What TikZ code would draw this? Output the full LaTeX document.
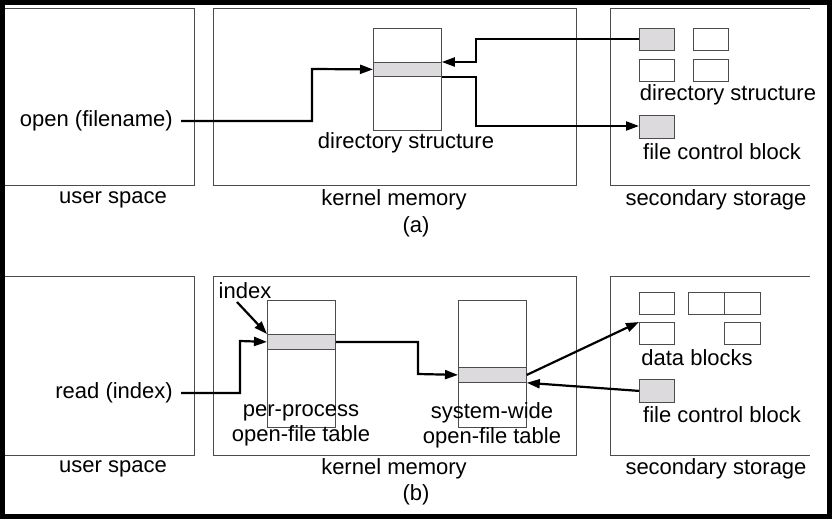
\documentclass[tikz,border=0pt]{standalone}
\usepackage{fontspec}
\setmainfont{Liberation Sans}
\usetikzlibrary{arrows.meta,positioning}
\definecolor{shade}{RGB}{221,218,221}
\begin{document}
\begin{tikzpicture}[x=1pt,y=-1pt,font=\fontsize{22}{25}\selectfont]
		\tikzstyle{region} = [draw=black!70, line width=0.8pt]
		\tikzstyle{table} = [draw=black!70, line width=0.8pt, fill=white]
		\tikzstyle{row} = [draw=black!70, line width=0.8pt, fill=shade]
		\tikzstyle{block} = [draw=black!70, line width=0.8pt, fill=white]
		\tikzstyle{txt} = [inner sep=0pt]
		\tikzstyle{arrow} = [line width=2.2pt, -{Triangle[length=13pt,width=9pt]}]
		\useasboundingbox (0,0) rectangle (832,519);
		\draw [line width=5pt] (2.5,2.5) rectangle (829.5,516.5);
		% (a)
		\draw [region] (5,8) -- (194,8) -- (194,185) -- (5,185);
		\draw [region] (213,8) rectangle (576,185);
		\draw [region] (810,8) -- (610,8) -- (610,185) -- (810,185);
		\node (tabA) [table, minimum width=68pt, minimum height=102pt, anchor=north west] at (373,28) {};
		\node (rowA) [row, minimum width=68pt, minimum height=14pt, anchor=north west] at (373,62) {};
		\node (dirA) [block, fill=shade, minimum width=35pt, minimum height=22pt, anchor=north west] at (639,28) {};
		\node (dirB) [block, minimum width=35pt, minimum height=22pt, anchor=north west] at (693,28) {};
		\node (dirC) [block, minimum width=35pt, minimum height=22pt, anchor=north west] at (639,59) {};
		\node (dirD) [block, minimum width=35pt, minimum height=22pt, anchor=north west] at (693,59) {};
		\node (fcbA) [block, fill=shade, minimum width=35pt, minimum height=23pt, anchor=north west] at (639,115) {};
		\node (open) [txt, anchor=east] at (173,121) {open (filename)};
		\node (dirAtxt) [txt] at (406,143) {directory structure};
		\node (dirtxt) [txt] at (728,95) {directory structure};
		\node (fcbAtxt) [txt] at (722,152) {file control block};
		\node [txt] at (113,200) {user space};
		\node [txt] at (394,200) {kernel memory};
		\node [txt] at (716,200) {secondary storage};
		\node [txt] at (416,227) {(a)};
		\draw [arrow] (open.east) ++(8,0) -| (312,69) -- (rowA.west);
		\draw [arrow] (dirA.west) -| (476,62) -- (rowA.north east);
		\draw [arrow] (rowA.south east) -| (476,126) -- (fcbA.west |- 0,126);
		% (b)
		\draw [region] (5,276) -- (194,276) -- (194,455) -- (5,455);
		\draw [region] (213,276) rectangle (576,455);
		\draw [region] (810,276) -- (610,276) -- (610,455) -- (810,455);
		\node (perTab) [table, minimum width=68pt, minimum height=127pt, anchor=north west] at (267,300) {};
		\node (perRow) [row, minimum width=68pt, minimum height=15pt, anchor=north west] at (267,334) {};
		\node (sysTab) [table, minimum width=68pt, minimum height=127pt, anchor=north west] at (458,300) {};
		\node (sysRow) [row, minimum width=68pt, minimum height=15pt, anchor=north west] at (458,367) {};
		\node (datA) [block, minimum width=35pt, minimum height=22pt, anchor=north west] at (639,292) {};
		\node (datB) [block, minimum width=36pt, minimum height=22pt, anchor=north west] at (688,292) {};
		\node (datC) [block, minimum width=36pt, minimum height=22pt, anchor=north west] at (724,292) {};
		\node (datD) [block, minimum width=35pt, minimum height=22pt, anchor=north west] at (639,322) {};
		\node (datE) [block, minimum width=36pt, minimum height=22pt, anchor=north west] at (724,322) {};
		\node (fcbB) [block, fill=shade, minimum width=35pt, minimum height=23pt, anchor=north west] at (639,379) {};
		\node (index) [txt] at (245,291) {index};
		\node (read) [txt, anchor=east] at (173,393) {read (index)};
		\node [txt, align=center] at (301,425) {per-process\\open-file table};
		\node [txt, align=center] at (492,425) {system-wide\\open-file table};
		\node (datTxt) [txt] at (697,358) {data blocks};
		\node (fcbBtxt) [txt] at (722,415) {file control block};
		\node [txt] at (113,469) {user space};
		\node [txt] at (394,469) {kernel memory};
		\node [txt] at (716,469) {secondary storage};
		\node [txt] at (416,495) {(b)};
		\draw [arrow] (237,302) -- (perRow.north west);
		\draw [arrow] (read.east) ++(8,0) -| (240,341) -- (perRow.west);
		\draw [arrow] (perRow.east) -| (418,374) -- (sysRow.west);
		\draw [arrow] (sysRow.east) -- (datD.north west);
		\draw [arrow] (fcbB.west) -- (sysRow.south east);
\end{tikzpicture}
\end{document}
